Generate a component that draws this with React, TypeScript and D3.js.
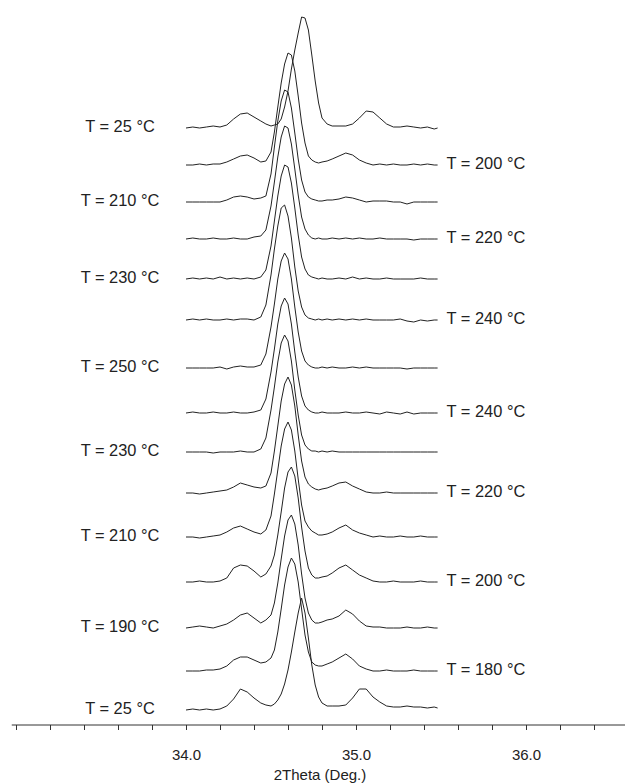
import React, { useEffect, useRef } from "react";
import * as d3 from "d3";

// 2theta sampling (denser around the main reflection)
const twoTheta = [
  34.0, 34.04, 34.08, 34.12, 34.16, 34.2, 34.24, 34.28, 34.32, 34.36, 34.4, 34.44,
  34.47, 34.5,
  34.52, 34.54, 34.56, 34.58, 34.6, 34.62, 34.64, 34.66, 34.68, 34.7, 34.72, 34.74, 34.76, 34.78, 34.8,
  34.83, 34.86,
  34.9, 34.94, 34.98, 35.02, 35.06, 35.1, 35.14, 35.18, 35.22, 35.26, 35.3, 35.34, 35.38, 35.42, 35.46,
  35.48,
];

// intensities (arb. units), top scan first
const heat25 = [
  0, 1, 0, 1, 2, 1, 3, 9, 14, 15, 11, 7,
  4, 2,
  3, 4, 9, 21, 37, 59, 78, 95, 111, 110, 98, 73, 47, 25, 10,
  4, 2,
  2, 2, 4, 10, 17, 16, 10, 4, 1, 1, 2, 1, 0, 1, -1,
  0,
];
const heat200 = [
  0, 0, 1, 0, 1, 1, 3, 6, 9, 10, 7, 3,
  4, 13,
  33, 58, 82, 101, 112, 110, 94, 69, 42, 22, 9, 5, 3, 2, 3,
  4, 6,
  9, 12, 10, 5, 2, 0, 1, 0, 1, 0, 0, 1, 0, 1, 0,
  0,
];
const heat210 = [
  0, 0, 0, 0, 0, 0, 2, 5, 6, 5, 3, 4,
  6, 28,
  55, 81, 101, 112, 110, 94, 69, 43, 22, 10, 5, 3, 2, 1, 1,
  2, 2,
  3, 5, 4, 2, 0, 1, 1, 1, 0, 0, -2, 0, 0, 0, 0,
  0,
];
const heat220 = [
  0, 1, 0, 0, 1, 0, 0, 1, 0, 0, 2, 3,
  9, 33,
  57, 82, 102, 113, 111, 95, 70, 44, 22, 10, 4, 1, 0, 1, 0,
  0, 1,
  0, 1, 0, 1, 0, 0, 1, 0, 0, 0, 0, -1, 0, 0, 0,
  0,
];
const heat230 = [
  0, 1, 0, 1, 0, 2, 0, 1, 0, 1, 0, 2,
  9, 33,
  58, 83, 103, 114, 112, 96, 71, 44, 22, 10, 4, 2, 1, 0, 1,
  0, 0,
  1, 0, 2, 0, 1, 0, 0, 1, 0, 0, 0, 0, 1, 0, 0,
  0,
];
const heat240 = [
  0, 1, 0, 1, 0, 0, 1, 0, 1, 1, 0, 3,
  15, 45,
  71, 94, 112, 115, 104, 82, 53, 29, 13, 5, 2, 1, 0, 1, 0,
  1, 0,
  1, 0, 1, 0, 1, 0, 0, 0, 0, 1, -1, -2, 0, -1, 0,
  0,
];
const heat250 = [
  0, 0, 0, 0, 0, 1, -1, 1, 2, 1, 1, 3,
  14, 41,
  64, 89, 107, 115, 109, 89, 61, 36, 17, 7, 3, 1, 0, 0, 1,
  0, 1,
  0, 0, 1, 0, 1, 0, 0, 0, 0, 0, -1, 0, 0, 0, 0,
  0,
];
const cool240 = [
  0, 1, 0, 0, 1, 0, 0, 1, 0, 0, 1, 3,
  14, 41,
  64, 89, 107, 115, 109, 89, 61, 36, 17, 7, 3, 1, 0, 0, 1,
  0, 0,
  0, 1, 0, 0, 1, 0, -1, 1, 0, -1, 1, -1, 0, 0, 0,
  0,
];
const cool230 = [
  0, 0, 0, 0, -1, 0, 0, 0, 1, 0, 0, 3,
  14, 42,
  65, 90, 109, 117, 111, 91, 62, 37, 17, 7, 3, 1, 1, 0, 1,
  0, 1,
  0, 0, 0, 0, 0, 0, 0, 0, 0, 0, 0, 0, 0, 0, 0,
  0,
];
const cool220 = [
  0, 0, -1, 0, 1, 2, 3, 6, 10, 8, 6, 5,
  7, 20,
  42, 67, 92, 109, 116, 108, 87, 58, 32, 16, 9, 6, 4, 3, 4,
  5, 7,
  10, 11, 7, 4, 1, 0, 0, 1, 0, 0, 0, 0, 0, 0, 0,
  0,
];
const cool210 = [
  0, 0, -1, 0, 1, 2, 5, 9, 11, 8, 5, 3,
  7, 21,
  43, 67, 91, 108, 115, 107, 86, 58, 32, 16, 10, 6, 4, 2, 2,
  3, 5,
  9, 12, 7, 4, 2, 0, 1, 0, 0, 1, 0, 0, 1, 0, 0,
  0,
];
const cool200 = [
  0, 0, 1, 0, 0, 1, 4, 14, 17, 16, 11, 5,
  8, 16,
  27, 47, 70, 94, 110, 115, 106, 84, 55, 31, 14, 7, 4, 4, 5,
  6, 9,
  14, 17, 12, 7, 4, 1, 0, 0, 1, 0, 0, 0, 1, 0, 0,
  0,
];
const cool190 = [
  0, 1, 2, 1, 0, 2, 4, 8, 13, 15, 10, 5,
  8, 13,
  25, 45, 69, 92, 108, 113, 104, 83, 54, 30, 15, 8, 5, 5, 6,
  8, 9,
  12, 18, 14, 7, 2, 1, 1, 0, 0, 0, 1, 0, 0, 1, 0,
  0,
];
const cool180 = [
  0, 0, 0, 1, 1, 2, 5, 11, 14, 14, 11, 8,
  9, 13,
  21, 39, 62, 86, 104, 113, 107, 89, 62, 36, 19, 9, 6, 5, 5,
  7, 9,
  13, 17, 12, 5, 2, 0, 0, 1, 0, 0, 0, 1, 0, 0, 0,
  0,
];
const cool25 = [
  0, 1, 0, 1, 0, 1, 4, 11, 21, 18, 12, 7,
  5, 4,
  6, 10, 16, 26, 40, 58, 78, 97, 112, 97, 72, 45, 25, 13, 7,
  4, 4,
  4, 5, 12, 21, 21, 13, 8, 4, 3, 3, 4, 3, 3, 2, 3,
  2,
];

const scans = [
  heat25, heat200, heat210, heat220, heat230, heat240, heat250,
  cool240, cool230, cool220, cool210, cool200, cool190, cool180, cool25,
];
const tempLabels = [
  "T = 25 °C", "T = 200 °C", "T = 210 °C", "T = 220 °C", "T = 230 °C", "T = 240 °C", "T = 250 °C",
  "T = 240 °C", "T = 230 °C", "T = 220 °C", "T = 210 °C", "T = 200 °C", "T = 190 °C", "T = 180 °C",
  "T = 25 °C",
];
// vertical stacking offsets
const offsets = [582, 545, 508, 471, 431, 390, 342, 297, 258, 217, 173, 128, 82, 39, 0];

const xTicks = [
  33.0, 33.2, 33.4, 33.6, 33.8, 34.0, 34.2, 34.4, 34.6, 34.8, 35.0, 35.2, 35.4, 35.6, 35.8,
  36.0, 36.2, 36.4,
];
const xTickLabels = [34.0, 35.0, 36.0];

const width = 625;
const height = 783;
const font = "'Liberation Sans', Arial, Helvetica, sans-serif";

const App = () => {
  const svgRef = useRef<SVGSVGElement>(null);

  useEffect(() => {
    const svg = d3.select(svgRef.current);
    svg.selectAll("*").remove();

    const x = d3.scaleLinear().domain([33, 37]).range([16, 696]);
    const y = d3.scaleLinear().domain([0, 710]).range([710, 0]);
    const axisY = 725;

    const line = d3
      .line<number>()
      .x((_, i) => x(twoTheta[i]))
      .y((d) => y(d));

    scans.forEach((scan, k) => {
      svg
        .append("path")
        .datum(scan.map((v) => v + offsets[k]))
        .attr("fill", "none")
        .attr("stroke", "#222")
        .attr("stroke-width", 1)
        .attr("stroke-linejoin", "round")
        .attr("d", line);

      // labels alternate left / right of the scans
      const left = k % 2 === 0;
      svg
        .append("text")
        .attr("x", left ? 120 : x(twoTheta[twoTheta.length - 1]) + 9)
        .attr("y", y(offsets[k]) + 3.5)
        .attr("text-anchor", left ? "middle" : "start")
        .attr("font-family", font)
        .attr("font-size", 16.4)
        .attr("fill", "#222")
        .text(tempLabels[k]);
    });

    // x axis
    const axis = d3
      .axisBottom(x)
      .tickValues(xTicks)
      .tickSize(5)
      .tickSizeOuter(0)
      .tickPadding(19)
      .tickFormat((d) => (xTickLabels.includes(+d) ? d3.format(".1f")(+d) : ""));

    const g = svg
      .append("g")
      .attr("transform", `translate(0,${axisY})`)
      .call(axis)
      .attr("font-family", font)
      .attr("font-size", 15);
    g.select(".domain").remove();
    g.selectAll(".tick line").attr("stroke", "#333");
    g.selectAll(".tick text").attr("fill", "#222");
    g.append("line")
      .attr("x1", x(32.975))
      .attr("x2", width)
      .attr("y1", 0)
      .attr("y2", 0)
      .attr("stroke", "#333")
      .attr("stroke-width", 1);

    svg
      .append("text")
      .attr("x", 320)
      .attr("y", 780)
      .attr("text-anchor", "middle")
      .attr("font-family", font)
      .attr("font-size", 15)
      .attr("fill", "#222")
      .text("2Theta (Deg.)");
  }, []);

  return (
    <svg
      ref={svgRef}
      width={width}
      height={height}
      style={{ position: "absolute", left: 0, top: 0, background: "#fff" }}
    ></svg>
  );
};

export default App;
